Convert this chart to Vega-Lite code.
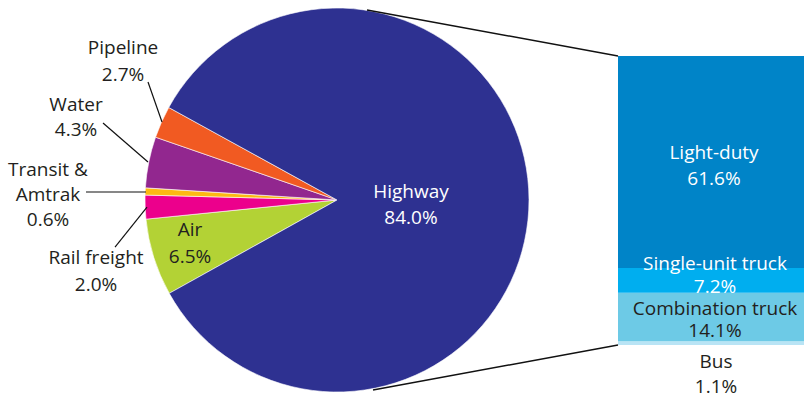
{
  "$schema": "https://vega.github.io/schema/vega-lite/v6.json",
  "width": 804,
  "height": 399,
  "padding": 0,
  "autosize": {"type": "none"},
  "background": "white",
  "config": {"view": {"stroke": null}},
  "data": {"values": [{}]},
  "datasets": {
    "modes": [
      {"mode": "Air", "pct": 6.5},
      {"mode": "Rail freight", "pct": 2.0},
      {"mode": "Transit & Amtrak", "pct": 0.6},
      {"mode": "Water", "pct": 4.3},
      {"mode": "Pipeline", "pct": 2.7},
      {"mode": "Highway", "pct": 84.0}
    ],
    "highway": [
      {"mode": "Bus", "pct": 1.1},
      {"mode": "Combination truck", "pct": 14.1},
      {"mode": "Single-unit truck", "pct": 7.2},
      {"mode": "Light-duty", "pct": 61.6}
    ]
  },
  "layer": [
    {
      "data": {"name": "modes"},
      "transform": [{"stack": "pct", "groupby": [], "as": ["t0", "t1"]}],
      "mark": {"type": "arc", "radius": 192, "stroke": "white", "strokeWidth": 0.6},
      "encoding": {
        "x": {"datum": 337, "type": "quantitative", "scale": {"domain": [0, 804], "nice": false, "zero": false}, "axis": null},
        "y": {"datum": 42.145, "type": "quantitative", "scale": {"domain": [-15.695, 100.275], "nice": false, "zero": false}, "axis": null},
        "theta": {"field": "t0", "type": "quantitative", "scale": {"domain": [0, 100.1], "range": [4.2045, 10.4877]}},
        "theta2": {"field": "t1"},
        "color": {
          "field": "mode", "type": "nominal", "legend": null,
          "scale": {
            "domain": ["Air", "Rail freight", "Transit & Amtrak", "Water", "Pipeline", "Highway", "Bus", "Combination truck", "Single-unit truck", "Light-duty"],
            "range": ["#B3D235", "#EC008C", "#FDB913", "#92278F", "#F15A22", "#2E3191", "#B9E4F5", "#6DCAE6", "#00AEEF", "#0084C8"]
          }
        }
      }
    },
    {
      "data": {"name": "highway"},
      "transform": [{"stack": "pct", "groupby": [], "as": ["b0", "b1"]}],
      "mark": {"type": "rect"},
      "encoding": {
        "x": {"datum": 618},
        "x2": {"datum": 804},
        "y": {"field": "b0", "type": "quantitative"},
        "y2": {"field": "b1"},
        "color": {
          "field": "mode", "type": "nominal", "legend": null,
          "scale": {
            "domain": ["Air", "Rail freight", "Transit & Amtrak", "Water", "Pipeline", "Highway", "Bus", "Combination truck", "Single-unit truck", "Light-duty"],
            "range": ["#B3D235", "#EC008C", "#FDB913", "#92278F", "#F15A22", "#2E3191", "#B9E4F5", "#6DCAE6", "#00AEEF", "#0084C8"]
          }
        }
      }
    },
    {
      "mark": {"type": "rule", "color": "#111111", "strokeWidth": 1.5},
      "encoding": {"x": {"datum": 367}, "y": {"datum": 97.37}, "x2": {"datum": 618}, "y2": {"datum": 84.0}}
    },
    {
      "mark": {"type": "rule", "color": "#111111", "strokeWidth": 1.5},
      "encoding": {"x": {"datum": 373}, "y": {"datum": -13.08}, "x2": {"datum": 618}, "y2": {"datum": 0}}
    },
    {
      "mark": {"type": "rule", "color": "#111111", "strokeWidth": 1.2},
      "encoding": {"x": {"datum": 148}, "y": {"datum": 76.44}, "x2": {"datum": 162}, "y2": {"datum": 64.82}}
    },
    {
      "mark": {"type": "rule", "color": "#111111", "strokeWidth": 1.2},
      "encoding": {"x": {"datum": 103}, "y": {"datum": 64.53}, "x2": {"datum": 148}, "y2": {"datum": 53.19}}
    },
    {
      "mark": {"type": "rule", "color": "#111111", "strokeWidth": 1.2},
      "encoding": {"x": {"datum": 86}, "y": {"datum": 44.47}, "x2": {"datum": 146}, "y2": {"datum": 44.47}}
    },
    {
      "mark": {"type": "rule", "color": "#111111", "strokeWidth": 1.2},
      "encoding": {"x": {"datum": 115}, "y": {"datum": 28.48}, "x2": {"datum": 147}, "y2": {"datum": 40.11}}
    },
    {
      "mark": {"type": "text", "font": "Open Sans", "fontSize": 19, "color": "#231F20", "align": "center", "baseline": "middle", "lineHeight": 27},
      "encoding": {"x": {"datum": 123}, "y": {"datum": 86.32}, "text": {"value": ["Pipeline", "2.7%"]}}
    },
    {
      "mark": {"type": "text", "font": "Open Sans", "fontSize": 19, "color": "#231F20", "align": "center", "baseline": "middle", "lineHeight": 25},
      "encoding": {"x": {"datum": 76}, "y": {"datum": 69.76}, "text": {"value": ["Water", "4.3%"]}}
    },
    {
      "mark": {"type": "text", "font": "Open Sans", "fontSize": 19, "color": "#231F20", "align": "center", "baseline": "middle", "lineHeight": 25},
      "encoding": {"x": {"datum": 48}, "y": {"datum": 50.86}, "text": {"value": ["Transit &", "Amtrak", "0.6%"]}}
    },
    {
      "mark": {"type": "text", "font": "Open Sans", "fontSize": 19, "color": "#231F20", "align": "center", "baseline": "middle", "lineHeight": 27},
      "encoding": {"x": {"datum": 96}, "y": {"datum": 25.29}, "text": {"value": ["Rail freight", "2.0%"]}}
    },
    {
      "mark": {"type": "text", "font": "Open Sans", "fontSize": 19, "color": "#231F20", "align": "center", "baseline": "middle", "lineHeight": 27},
      "encoding": {"x": {"datum": 190}, "y": {"datum": 33.43}, "text": {"value": ["Air", "6.5%"]}}
    },
    {
      "mark": {"type": "text", "font": "Open Sans", "fontSize": 19, "color": "#FFFFFF", "align": "center", "baseline": "middle", "lineHeight": 26},
      "encoding": {"x": {"datum": 411}, "y": {"datum": 44.56}, "text": {"value": ["Highway", "84.0%"]}}
    },
    {
      "mark": {"type": "text", "font": "Open Sans", "fontSize": 19, "color": "#FFFFFF", "align": "center", "baseline": "middle", "lineHeight": 26},
      "encoding": {"x": {"datum": 714}, "y": {"datum": 55.81}, "text": {"value": ["Light-duty", "61.6%"]}}
    },
    {
      "mark": {"type": "text", "font": "Open Sans", "fontSize": 19, "color": "#FFFFFF", "align": "center", "baseline": "middle", "lineHeight": 23},
      "encoding": {"x": {"datum": 715}, "y": {"datum": 23.54}, "text": {"value": ["Single-unit truck", "7.2%"]}}
    },
    {
      "mark": {"type": "text", "font": "Open Sans", "fontSize": 19, "color": "#231F20", "align": "center", "baseline": "middle", "lineHeight": 22},
      "encoding": {"x": {"datum": 715}, "y": {"datum": 10.46}, "text": {"value": ["Combination truck", "14.1%"]}}
    },
    {
      "mark": {"type": "text", "font": "Open Sans", "fontSize": 19, "color": "#231F20", "align": "center", "baseline": "middle", "lineHeight": 25},
      "encoding": {"x": {"datum": 716}, "y": {"datum": -4.94}, "text": {"value": ["Bus", "1.1%"]}}
    }
  ]
}
